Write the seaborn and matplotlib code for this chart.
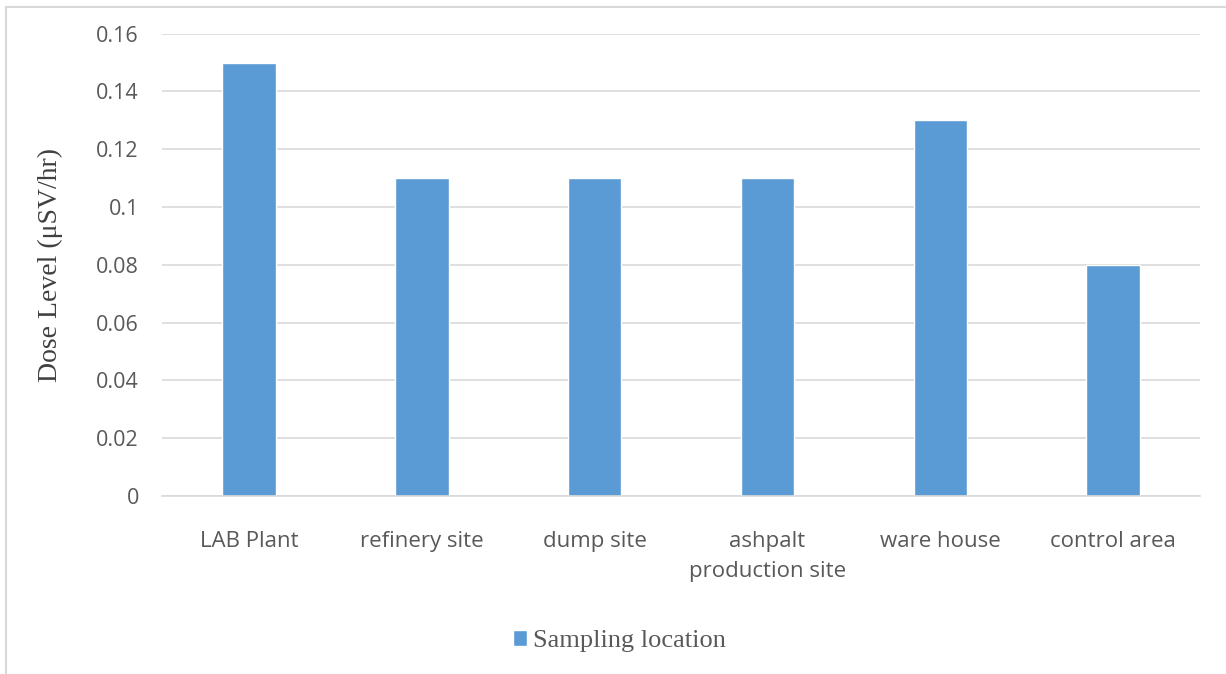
import matplotlib
matplotlib.use("Agg")
import matplotlib.pyplot as plt
import seaborn as sns
import pandas as pd

# values
locations = ["LAB Plant", "refinery site", "dump site", "ashpalt\nproduction site",
             "ware house", "control area"]
dose = [0.15, 0.11, 0.11, 0.11, 0.13, 0.08]
yticks = [0, 0.02, 0.04, 0.06, 0.08, 0.1, 0.12, 0.14, 0.16]

df = pd.DataFrame({"location": locations, "dose": dose,
                   "series": "Sampling location"})

sns.set_style("white")
fig = plt.figure(figsize=(12.26, 6.74), dpi=100)
ax = fig.add_axes([0.1325, 0.264, 0.846, 0.686])

sns.barplot(data=df, x="location", y="dose", hue="series",
            palette=["#5B9BD5"], width=0.31, saturation=1, ax=ax)

ax.set_ylim(0, 0.16)
ax.set_yticks(yticks)
ax.set_yticklabels([f"{v:g}" for v in yticks], fontsize=15.5,
                   color="#595959", family="Open Sans")
ax.set_xticks(range(len(locations)))
ax.set_xticklabels(locations, fontsize=16, color="#595959",
                   family="Open Sans", linespacing=1.55)
ax.tick_params(axis="both", length=0)
ax.tick_params(axis="x", pad=25)
ax.tick_params(axis="y", pad=17)
ax.grid(axis="y", color="#D9D9D9", linewidth=1.2)
ax.set_axisbelow(True)
for s in ["top", "right", "left"]:
    ax.spines[s].set_visible(False)
ax.spines["bottom"].set_color("#D9D9D9")
ax.spines["bottom"].set_linewidth(1.2)

ax.set_xlabel("")
ax.set_ylabel("Dose Level (μSV/hr)", fontsize=20, family="Liberation Serif",
              color="#404040", labelpad=24)

ax.legend(loc="center", bbox_to_anchor=(0.505, 0.049), bbox_transform=fig.transFigure,
          frameon=False, handlelength=0.55, handleheight=0.55, handletextpad=0.2,
          prop={"family": "Liberation Serif", "size": 19},
          labelcolor="#595959")

# light outer frame like the original chart area
fig.patches.append(plt.Rectangle((0.005, -0.01), 1.2, 1.0, transform=fig.transFigure,
                                 fill=False, edgecolor="#D9D9D9", linewidth=1.5))

fig.savefig("out.png", dpi=100)
